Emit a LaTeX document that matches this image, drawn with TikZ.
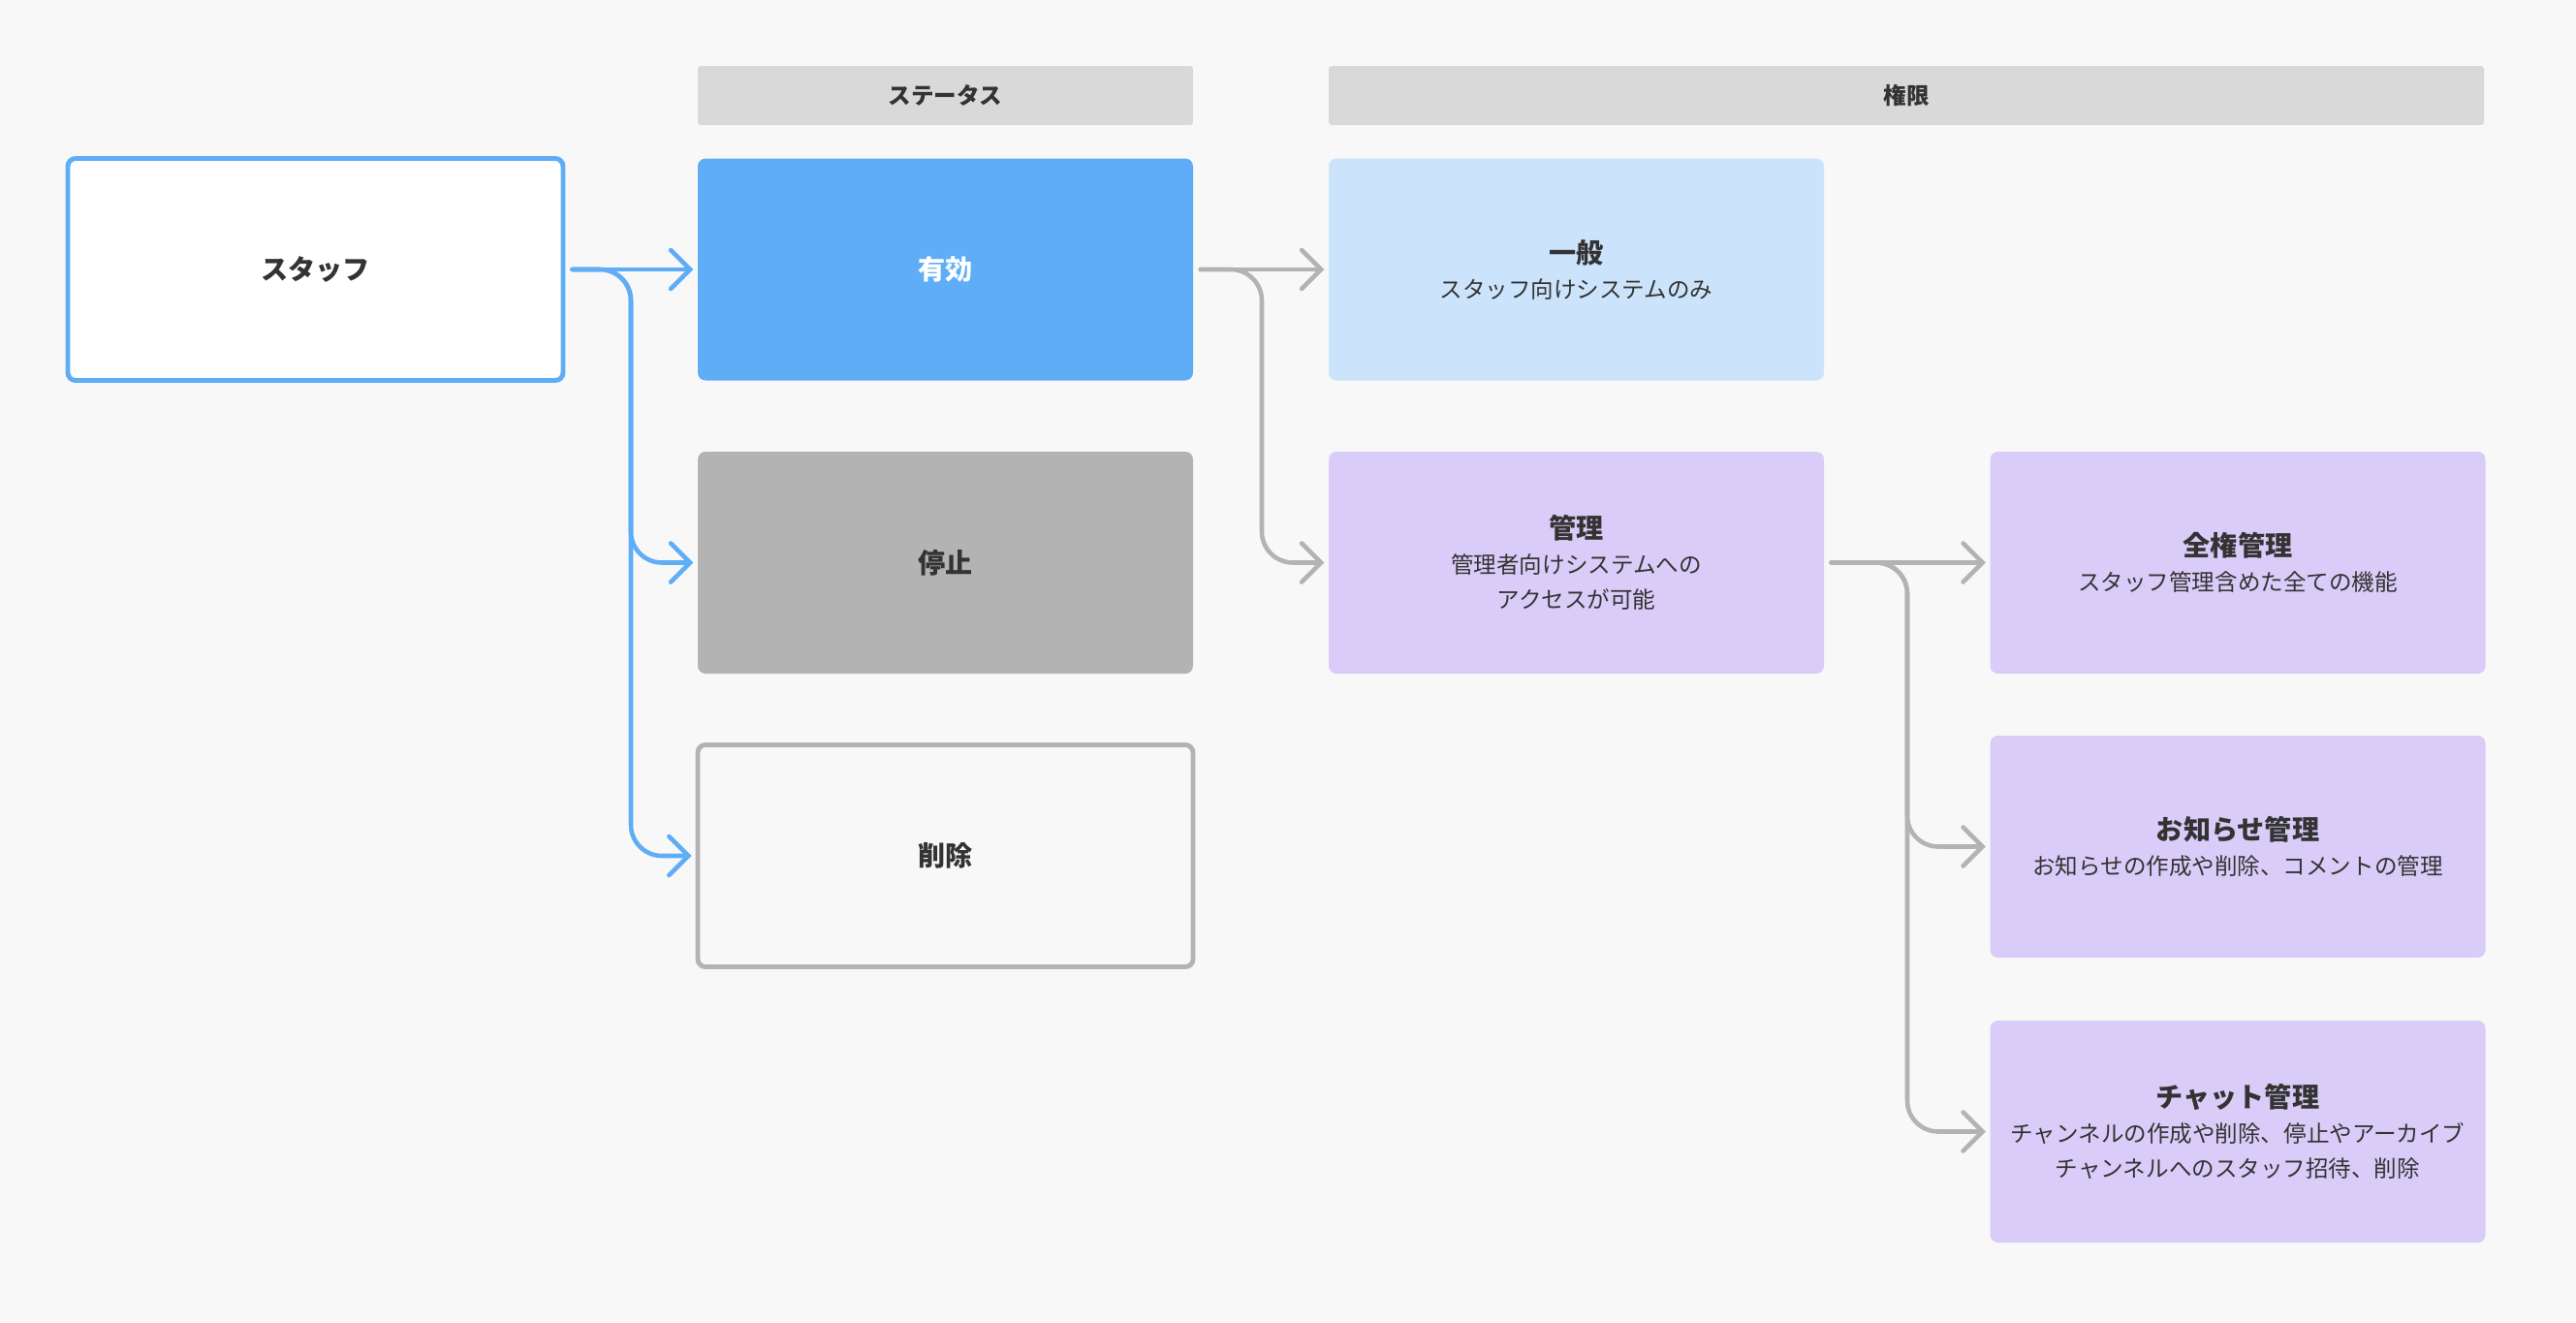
\documentclass[tikz,border=0pt]{standalone}
\usepackage{fontspec}
\setmainfont{Noto Sans CJK JP}
\usepackage{xcolor}
\usepackage{tikz}
\usetikzlibrary{arrows.meta, positioning, calc}

\definecolor{bgcol}{HTML}{F8F8F8}
\definecolor{headcol}{HTML}{D9D9D9}
\definecolor{textcol}{HTML}{333333}
\definecolor{bluecol}{HTML}{5FADF7}
\definecolor{greycol}{HTML}{B3B3B3}
\definecolor{lightblue}{HTML}{CCE4FB}
\definecolor{lavender}{HTML}{D9CCF8}

\newcommand{\boxtitle}[1]{{\fontsize{8}{10.3}\selectfont\bfseries #1}}

\tikzstyle{box} = [rectangle, rounded corners=0.08cm, minimum width=5.11cm, minimum height=2.29cm, align=center, text=textcol, inner sep=0pt]
\tikzstyle{headbar} = [rectangle, rounded corners=0.03cm, fill=headcol, minimum height=0.61cm, text=textcol, font=\fontsize{6.7}{8}\selectfont\bfseries]
\tikzstyle{bluearrow} = [line width=1.3pt, draw=bluecol, -{Straight Barb[length=0.2cm, width=0.4cm, line cap=round]}, rounded corners=0.32cm, line cap=round, shorten >=0.04cm, shorten <=0.07cm]
\tikzstyle{greyarrow} = [bluearrow, draw=greycol]

\begin{document}
\begin{tikzpicture}[x=1cm, y=-1cm, every node/.style={font=\fontsize{6.7}{10.3}\selectfont}]
\useasboundingbox (0,0) rectangle (26.58,13.64);
\fill [bgcol] (0,0) rectangle (26.58,13.64);

% Column headers
\node (hstatus) at (9.755,0.985) [headbar, minimum width=5.11cm] {ステータス};
\node (hright) at (19.67,0.985) [headbar, minimum width=11.92cm] {権限};

% Staff and status
\node (staff) at (3.255,2.78) [box, fill=white, draw=bluecol, line width=1.4pt] {\boxtitle{スタッフ}};
\node (active) at (9.755,2.78) [box, fill=bluecol, text=white] {\boxtitle{有効}};
\node (stopped) at (9.755,5.805) [box, fill=greycol] {\boxtitle{停止}};
\node (deleted) at (9.755,8.83) [box, fill=bgcol, draw=greycol, line width=1.4pt] {\boxtitle{削除}};

% Permissions
\node (general) at (16.265,2.78) [box, fill=lightblue] {\boxtitle{一般}\\スタッフ向けシステムのみ};
\node (admin) at (16.265,5.805) [box, fill=lavender] {\boxtitle{管理}\\管理者向けシステムへの\\アクセスが可能};
\node (fulladmin) at (23.09,5.805) [box, fill=lavender] {\boxtitle{全権管理}\\スタッフ管理含めた全ての機能};
\node (newsadmin) at (23.09,8.735) [box, fill=lavender] {\boxtitle{お知らせ管理}\\お知らせの作成や削除、コメントの管理};
\node (chatadmin) at (23.09,11.675) [box, fill=lavender] {\boxtitle{チャット管理}\\チャンネルの作成や削除、停止やアーカイブ\\チャンネルへのスタッフ招待、削除};

% Branch points
\coordinate (bus1) at (6.51,0);
\coordinate (bus2) at (13.02,0);
\coordinate (bus3) at (19.68,0);

% Connectors
\draw [bluearrow] (staff.east) -- (active.west);
\draw [bluearrow] (staff.east) -| (bus1 |- stopped.west) -- (stopped.west);
\draw [bluearrow] (staff.east) -| (bus1 |- deleted.west) -- (deleted.west);
\draw [greyarrow] (active.east) -- (general.west);
\draw [greyarrow] (active.east) -| (bus2 |- admin.west) -- (admin.west);
\draw [greyarrow] (admin.east) -- (fulladmin.west);
\draw [greyarrow] (admin.east) -| (bus3 |- newsadmin.west) -- (newsadmin.west);
\draw [greyarrow] (admin.east) -| (bus3 |- chatadmin.west) -- (chatadmin.west);

\end{tikzpicture}
\end{document}
